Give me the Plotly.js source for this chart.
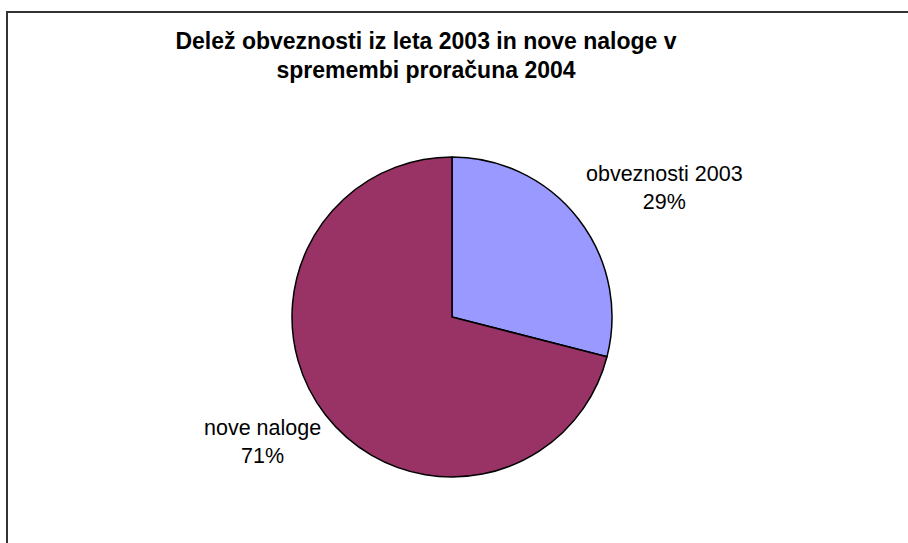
<!DOCTYPE html>
<html>
<head>
<meta charset="utf-8">
<script src="https://cdn.plot.ly/plotly-3.0.1.min.js"></script>
<style>
html,body{margin:0;padding:0;background:#fff;}
#chart{width:908px;height:543px;}
</style>
</head>
<body>
<div id="chart"></div>
<script>
var categories = ["obveznosti 2003", "nove naloge"];
var values = [29, 71];
var colors = ["#9999FF", "#993366"];
var titleText = "Delež obveznosti iz leta 2003 in nove naloge v<br>spremembi proračuna 2004";

var W = 908, H = 543;
function px(x){ return x / W; }
function py(y){ return 1 - y / H; }

var total = values.reduce(function(a,b){return a+b;}, 0);
var labelPos = [[664, 188], [262, 442]];
var annotations = categories.map(function(c, i){
  return {
    xref: "paper", yref: "paper",
    x: px(labelPos[i][0]), y: py(labelPos[i][1]),
    xanchor: "center", yanchor: "middle",
    text: c + "<br>" + Math.round(values[i] / total * 100) + "%",
    showarrow: false,
    font: {family: "Liberation Sans, Arial, sans-serif", size: 21.5, color: "#000"}
  };
});

var data = [{
  type: "pie",
  labels: categories,
  values: values,
  sort: false,
  direction: "clockwise",
  rotation: 0,
  textinfo: "none",
  hoverinfo: "label+percent",
  marker: {colors: colors, line: {color: "#000", width: 1.5}},
  domain: {x: [px(292), px(612)], y: [py(477), py(157)]},
  showlegend: false
}];

var layout = {
  width: W, height: H,
  margin: {l: 0, r: 0, t: 0, b: 0},
  paper_bgcolor: "#fff",
  plot_bgcolor: "#fff",
  title: {
    text: titleText,
    x: px(426), xanchor: "center",
    y: py(48.5), yanchor: "middle",
    xref: "paper", yref: "paper",
    font: {family: "Liberation Sans, Arial, sans-serif", size: 23, color: "#000", weight: "bold"}
  },
  annotations: annotations,
  shapes: [{
    type: "rect", xref: "paper", yref: "paper",
    x0: px(7), x1: px(930), y0: py(570), y1: py(12),
    line: {color: "#333", width: 2}, fillcolor: "rgba(0,0,0,0)"
  }]
};

Plotly.newPlot("chart", data, layout, {displayModeBar: false, staticPlot: true});
</script>
</body>
</html>
